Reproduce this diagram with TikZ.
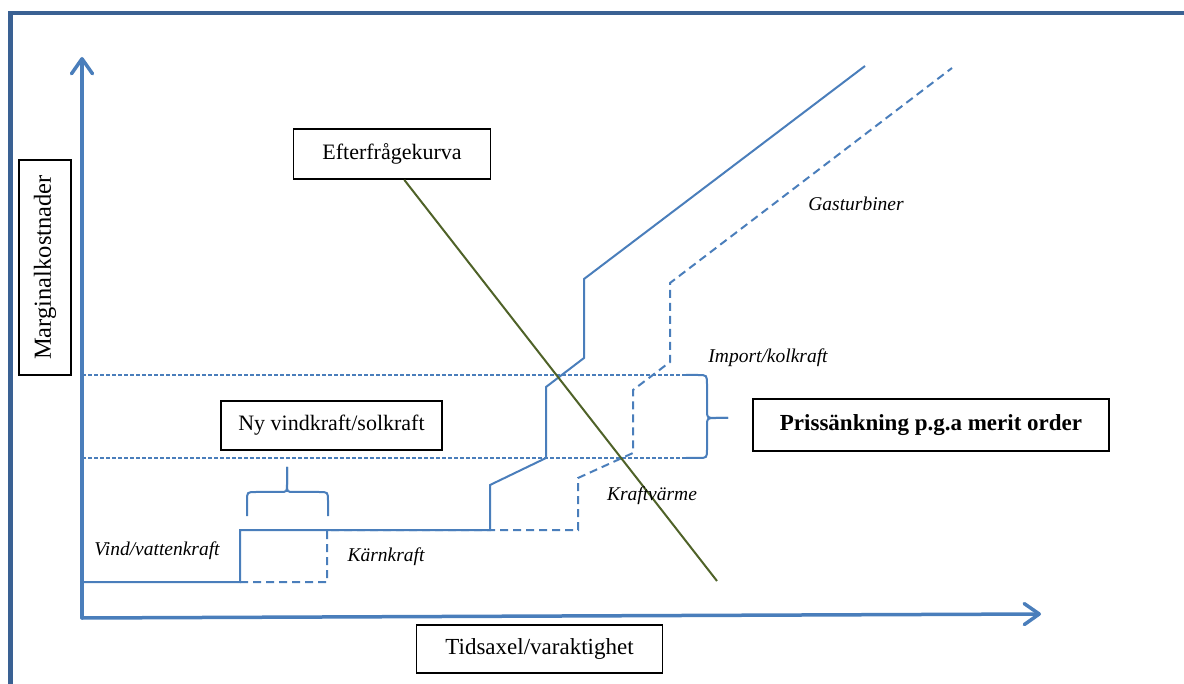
\documentclass[tikz,border=0pt]{standalone}
\usepackage{fontspec}
\setmainfont{Liberation Serif}
\usetikzlibrary{arrows.meta}
\definecolor{framec}{HTML}{3A6193}
\definecolor{axisc}{HTML}{4A7EBB}
\definecolor{demandc}{HTML}{4F6228}
\tikzset{
  txtbox/.style={draw=black, line width=1.8pt, inner sep=0pt, font=\fontsize{22}{26}\selectfont},
  lbl/.style={inner sep=0pt, font=\fontsize{19.5}{23}\selectfont\itshape},
  axisline/.style={draw=axisc, line width=3.5pt, line cap=round, -{Straight Barb[length=15pt,width=21pt,line width=3.5pt,round]}},
  supply/.style={draw=axisc, line width=2pt},
  supplydash/.style={draw=axisc, line width=2pt, dash pattern=on 8pt off 5pt},
  thindash/.style={draw=axisc, line width=1.2pt, dash pattern=on 4pt off 2pt},
  bracel/.style={draw=axisc, line width=2pt},
  demand/.style={draw=demandc, line width=2pt},
}
\begin{document}
\begin{tikzpicture}[x=1pt,y=-1pt]
\useasboundingbox (0,0) rectangle (1184,684);
% frame
\draw[framec, line width=4.5pt] (10.5,690) -- (10.5,13) -- (1190,13);

% thin dashed price levels
\coordinate (hu0) at (82,375);
\coordinate (hu1) at (686,375);
\coordinate (hl0) at (82,458);
\coordinate (hl1) at (686,458);
\draw[thindash] (hu0) -- (hu1);
\draw[thindash] (hl0) -- (hl1);

% axes
\coordinate (orig) at (82,618);
\coordinate (ytip) at (82,57);
\coordinate (xtip) at (1041,614);
\draw[axisline] (orig) -- (ytip);
\draw[axisline] (orig) -- (xtip);

% supply curve (solid)
\draw[supply, line join=miter] (82,582) -- (240,582) -- (240,530) -- (490,530) -- (490,485)
  -- (546,458) -- (546,387) -- (584,358) -- (584,279) -- (865,66);
% supply curve (shifted, dashed)
\draw[supplydash] (240,582) -- (327,582) -- (327,530) -- (578,530) -- (578,478)
  -- (633,453) -- (633,390) -- (670,362) -- (670,283) -- (952,68);

% boxes
\node[txtbox, minimum width=197pt, minimum height=50pt] (eft) at (392,154) {Efterfrågekurva};
\node[txtbox, minimum width=215pt, minimum height=52pt, rotate=90, font=\fontsize{24.5}{28}\selectfont] (marg) at (45,267.5) {Marginalkostnader};
\node[txtbox, minimum width=221pt, minimum height=49pt] (ny) at (331.5,425.5) {Ny vindkraft/solkraft};
\node[txtbox, minimum width=356pt, minimum height=51.5pt, font=\fontsize{23}{27}\selectfont\bfseries] (pris) at (931,425) {Prissänkning p.g.a merit order};
\node[txtbox, minimum width=246pt, minimum height=48pt, font=\fontsize{23}{27}\selectfont] (tid) at (539.5,649) {Tidsaxel/varaktighet};

% demand curve
\coordinate (dend) at (717,581);
\draw[demand] (eft.south -| 404.3,0) -- (dend);

% braces
\draw[bracel] (247,516) -- (247,501) .. controls (247,492) .. (256,492) -- (280,492)
  .. controls (287,492) .. (287,484) -- (287,467);
\draw[bracel] (287,467) -- (287,484) .. controls (287,492) .. (294,492) -- (319,492)
  .. controls (328,492) .. (328,501) -- (328,516);
\draw[bracel] (hu1) -- (698,375) .. controls (707,375) .. (707,385) -- (707,410)
  .. controls (707,418) .. (716,418) -- (728,418);
\draw[bracel] (728,418) -- (716,418) .. controls (707,418) .. (707,426) -- (707,449)
  .. controls (707,458) .. (698,458) -- (hl1);

% italic labels
\node[lbl] (l1) at (157,551) {Vind/vattenkraft};
\node[lbl] (l2) at (386,557) {Kärnkraft};
\node[lbl] (l3) at (652,496) {Kraftvärme};
\node[lbl] (l4) at (768,358) {Import/kolkraft};
\node[lbl] (l5) at (856,204) {Gasturbiner};
\end{tikzpicture}
\end{document}
